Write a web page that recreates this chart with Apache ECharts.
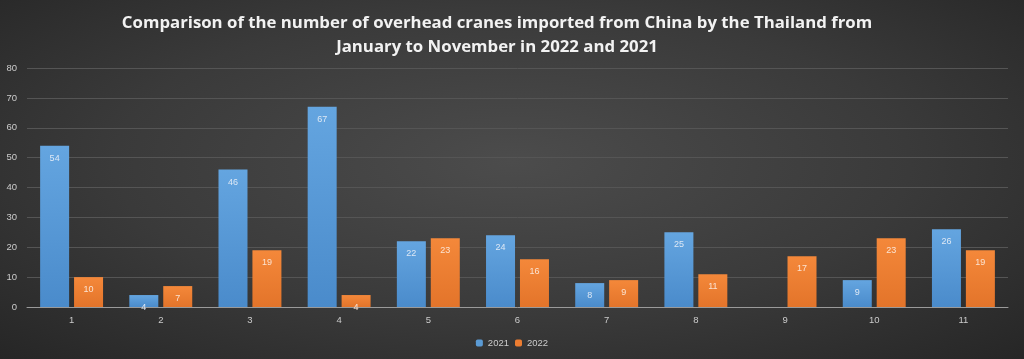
<!DOCTYPE html>
<html><head><meta charset="utf-8">
<script src="https://cdn.jsdelivr.net/npm/echarts@6/dist/echarts.min.js"></script>
<style>html,body{margin:0;padding:0;}#c{width:1024px;height:359px;background:radial-gradient(ellipse at 50% 45%,#4c4c4c 0%,#3a3a3a 55%,#262626 100%);}</style>
</head><body><div id="c"></div>
<script>
const categories = ['1','2','3','4','5','6','7','8','9','10','11'];
const values2021 = [54,4,46,67,22,24,8,25,null,9,26];
const values2022 = [10,7,19,4,23,16,9,11,17,23,19];
const yTicks = [0,10,20,30,40,50,60,70,80];
const chart = echarts.init(document.getElementById('c'));
const blue = new echarts.graphic.LinearGradient(0,0,0,1,[{offset:0,color:'#64a5e0'},{offset:1,color:'#4a8bcb'}]);
const orange = new echarts.graphic.LinearGradient(0,0,0,1,[{offset:0,color:'#f4883a'},{offset:1,color:'#e3742a'}]);
chart.setOption({
  backgroundColor:'transparent',
  title:{text:'Comparison of the number of overhead cranes imported from China by the Thailand from\nJanuary to November in 2022 and 2021',left:492,textAlign:'center',top:6,
    textStyle:{color:'#f2f2f2',fontSize:16.8,fontWeight:'bold',fontFamily:'Open Sans',lineHeight:24}},
  legend:{bottom:6,left:'center',itemWidth:7,itemHeight:7,itemGap:6,textStyle:{color:'#cccccc',fontSize:9.5},
    data:[{name:'2021',itemStyle:{color:'#5b9bd5'}},{name:'2022',itemStyle:{color:'#ed7d31'}}]},
  grid:{left:27,right:16,top:68,bottom:52,containLabel:false},
  xAxis:{type:'category',data:categories,axisLine:{lineStyle:{color:'#9a9a9a'}},axisTick:{show:false},
    axisLabel:{color:'#cccccc',fontSize:9.5,margin:8}},
  yAxis:{type:'value',min:0,max:80,interval:10,axisLine:{show:false},axisTick:{show:false},
    axisLabel:{color:'#cccccc',fontSize:9.5,margin:10,formatter:v=>yTicks.includes(v)?String(v):''},
    splitLine:{lineStyle:{color:'#555555',width:1}}},
  series:[
    {name:'2021',type:'bar',data:values2021,barWidth:29,barGap:'17%',itemStyle:{color:blue},
      label:{show:true,position:'insideTop',color:'#dde8f5',fontSize:9,offset:[0,3]}},
    {name:'2022',type:'bar',data:values2022,barWidth:29,itemStyle:{color:orange},
      label:{show:true,position:'insideTop',color:'#fbe3d2',fontSize:9,offset:[0,3]}}
  ]
});
</script></body></html>
